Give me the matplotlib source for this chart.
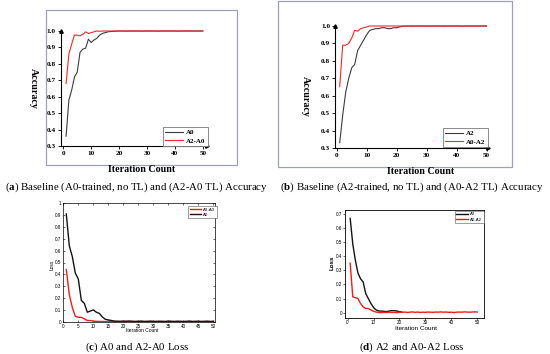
import numpy as np
import matplotlib
matplotlib.use('Agg')
import matplotlib.pyplot as plt
from matplotlib.patches import Rectangle

plt.rcParams['mathtext.fontset'] = 'custom'
plt.rcParams['mathtext.rm'] = 'Liberation Serif'
plt.rcParams['mathtext.bf'] = 'Liberation Serif:bold'

W, H = 550, 354

# ============================================================
# Data (iteration 1..50)
# ============================================================
iters = np.arange(1, 51)

# (a) accuracy
acc_a_A0 = [0.36, 0.58, 0.64, 0.72, 0.75, 0.87, 0.89, 0.895, 0.95, 0.93,
            0.945, 0.955, 0.975, 0.985, 0.99, 0.995, 0.997, 0.998, 0.999, 1.0,
            1.0, 1.0, 0.999, 1.0, 1.0, 1.0, 1.0, 0.999, 1.0, 1.0,
            1.0, 1.0, 1.0, 0.999, 1.0, 1.0, 1.0, 1.0, 1.0, 1.0,
            0.999, 1.0, 1.0, 1.0, 1.0, 1.0, 1.0, 1.0, 1.0, 1.0]
acc_a_A2A0 = [0.68, 0.86, 0.92, 0.975, 0.975, 0.97, 0.98, 0.995, 0.985, 0.99,
              0.995, 1.0, 0.998, 1.0, 1.0, 1.0, 1.0, 1.0, 1.0, 1.0,
              1.0, 1.0, 1.0, 1.0, 1.0, 1.0, 1.0, 1.0, 1.0, 1.0,
              1.0, 1.0, 1.0, 1.0, 1.0, 1.0, 1.0, 1.0, 1.0, 1.0,
              1.0, 1.0, 1.0, 1.0, 1.0, 1.0, 1.0, 1.0, 1.0, 1.0]

# (b) accuracy
acc_b_A2 = [0.332, 0.49, 0.62, 0.70, 0.76, 0.78, 0.86, 0.89, 0.92, 0.95,
            0.975, 0.98, 0.985, 0.985, 0.99, 0.99, 0.985, 0.985, 0.99, 0.99,
            0.995, 0.998, 1.0, 1.0, 0.999, 1.0, 1.0, 1.0, 1.0, 0.999,
            1.0, 1.0, 1.0, 1.0, 1.0, 0.999, 1.0, 1.0, 1.0, 1.0,
            1.0, 0.999, 1.0, 1.0, 1.0, 1.0, 1.0, 1.0, 1.0, 1.0]
acc_b_A0A2 = [0.653, 0.89, 0.89, 0.90, 0.93, 0.975, 0.97, 0.985, 0.99, 0.995,
              1.0, 1.0, 1.0, 1.0, 1.0, 1.0, 1.0, 1.0, 1.0, 1.0,
              1.0, 1.0, 1.0, 1.0, 1.0, 1.0, 1.0, 1.0, 1.0, 1.0,
              1.0, 1.0, 1.0, 1.0, 1.0, 1.0, 1.0, 1.0, 1.0, 1.0,
              1.0, 1.0, 1.0, 1.0, 1.0, 1.0, 1.0, 1.0, 1.0, 1.0]

# (c) loss
loss_c_A0 = [0.91, 0.64, 0.55, 0.41, 0.36, 0.18, 0.155, 0.08, 0.09, 0.10,
             0.08, 0.07, 0.04, 0.02, 0.015, 0.01, 0.005, 0.004, 0.003, 0.005,
             0.004, 0.006, 0.003, 0.002, 0.004, 0.005, 0.002, 0.003, 0.005, 0.003,
             0.002, 0.004, 0.003, 0.002, 0.005, 0.003, 0.002, 0.004, 0.003, 0.002,
             0.003, 0.005, 0.002, 0.003, 0.004, 0.002, 0.003, 0.004, 0.002, 0.003]
loss_c_A2A0 = [0.44, 0.23, 0.12, 0.045, 0.038, 0.036, 0.025, 0.01, 0.01, 0.005,
               0.003, 0.002, 0.002, 0.001, 0.002, 0.001, 0.002, 0.001, 0.001, 0.002,
               0.001, 0.001, 0.002, 0.001, 0.001, 0.001, 0.002, 0.001, 0.001, 0.001,
               0.002, 0.001, 0.001, 0.001, 0.001, 0.002, 0.001, 0.001, 0.001, 0.001,
               0.001, 0.002, 0.001, 0.001, 0.001, 0.001, 0.001, 0.002, 0.001, 0.001]

# (d) loss  (A2 curve stops at iteration 21)
loss_d_A2 = [0.667, 0.485, 0.37, 0.28, 0.24, 0.217, 0.135, 0.10, 0.065, 0.037,
             0.02, 0.012, 0.012, 0.01, 0.008, 0.012, 0.015, 0.015, 0.012, 0.008,
             0.004]
loss_d_A0A2 = [0.35, 0.112, 0.107, 0.10, 0.065, 0.042, 0.03, 0.03, 0.02, 0.01,
               0.005, 0.002, 0.001, 0.003, 0.002, 0.004, 0.002, 0.003, 0.001, 0.004,
               0.003, 0.005, 0.002, 0.004, 0.006, 0.003, 0.005, 0.002, 0.004, 0.003,
               0.005, 0.004, 0.003, 0.005, 0.004, 0.006, 0.004, 0.005, 0.003, 0.004,
               0.001, 0.004, 0.005, 0.004, 0.006, 0.005, 0.004, 0.005, 0.006, 0.005]

captions = [r'($\mathbf{a}$) Baseline (A0-trained, no TL) and (A2-A0 TL) Accuracy',
            r'($\mathbf{b}$) Baseline (A2-trained, no TL) and (A0-A2 TL) Accuracy',
            r'($\mathbf{c}$) A0 and A2-A0 Loss',
            r'($\mathbf{d}$) A2 and A0-A2 Loss']

SERIF = 'Liberation Serif'
SANS = 'Liberation Sans'
GRAY = '#3c3c3c'
RED = '#ff2626'


def px_axes(fig, x0, y0, x1, y1):
    """add axes given pixel box (top-left origin)"""
    return fig.add_axes([x0 / W, 1 - y1 / H, (x1 - x0) / W, (y1 - y0) / H])


def fx(x):
    return x / W


def fy(y):
    return 1 - y / H


fig = plt.figure(figsize=(5.5, 3.54), dpi=100)

# ============================================================
# Accuracy panels (Origin style)
# ============================================================
def acc_panel(box, frame, xlim, s1, s2, lab1, lab2, ylab_pos, xlab_pos, leg_pos):
    fig.patches.append(Rectangle((fx(frame[0]), fy(frame[3])),
                                 fx(frame[2] - frame[0]), (frame[3] - frame[1]) / H,
                                 transform=fig.transFigure, fill=False,
                                 edgecolor='#9aa2b4', linewidth=0.9))
    ax = px_axes(fig, *box)
    ax.plot(iters, s1, color=GRAY, lw=0.8, label=lab1, clip_on=False)
    ax.plot(iters, s2, color=RED, lw=0.8, label=lab2, clip_on=False)
    ax.set_xlim(*xlim)
    ax.set_ylim(0.3, 1.0)
    ax.set_xticks([0, 10, 20, 30, 40, 50])
    ax.set_yticks(np.arange(0.3, 1.01, 0.1))
    ax.set_yticklabels(['%.1f' % v for v in np.arange(0.3, 1.01, 0.1)])
    for s in ['top', 'right']:
        ax.spines[s].set_visible(False)
    for s in ['left', 'bottom']:
        ax.spines[s].set_linewidth(0.8)
    ax.tick_params(direction='out', length=2, width=0.6, pad=1.5, labelsize=5.2)
    for t in ax.get_xticklabels() + ax.get_yticklabels():
        t.set_fontfamily(SERIF)
        t.set_fontweight('bold')
    ax.plot([0], [1], marker='^', ms=2.5, color='black', transform=ax.transAxes, clip_on=False)
    ax.plot([1], [0], marker='>', ms=2.5, color='black', transform=ax.transAxes, clip_on=False)
    fig.text(fx(ylab_pos[0]), fy(ylab_pos[1]), 'Accuracy', rotation=-90, ha='center', va='center',
             family=SERIF, weight='bold', fontsize=7.2)
    fig.text(fx(xlab_pos[0]), fy(xlab_pos[1]), 'Iteration Count', ha='center', va='center',
             family=SERIF, weight='bold', fontsize=7.2)
    leg = ax.legend(loc='upper left', bbox_to_anchor=(fx(leg_pos[0]), fy(leg_pos[1])),
                    bbox_transform=fig.transFigure, prop={'family': SERIF, 'weight': 'bold', 'size': 5},
                    fancybox=False, framealpha=1, edgecolor='#777777', handlelength=2.5,
                    handletextpad=0.5, borderpad=0.35, labelspacing=0.35, borderaxespad=0)
    leg.get_frame().set_linewidth(0.6)
    return ax


acc_panel((60.7, 31, 207, 146), (46, 10, 237, 165), (-0.93, 51.5),
          acc_a_A0, acc_a_A2A0, 'A0', 'A2-A0', (33, 88), (142, 169), (163, 127))
acc_panel((335, 26, 488, 148.3), (278, 1, 512, 167), (-0.57, 50.5),
          acc_b_A2, acc_b_A0A2, 'A2', 'A0-A2', (305, 96), (421, 171), (443, 128))

# ============================================================
# Loss panels (MATLAB style)
# ============================================================
BLACK = '#141414'
LRED = '#ee1c1c'

ax_c = px_axes(fig, 63.3, 203.3, 215, 321.7)
ax_c.plot(iters, loss_c_A2A0, color=LRED, lw=1.0, label='A2-A0')
ax_c.plot(iters, loss_c_A0, color=BLACK, lw=1.0, label='A0')
ax_c.set_xlim(0, 50.5)
ax_c.set_ylim(0, 1)
ax_c.set_xticks(np.arange(0, 51, 5))
ax_c.set_yticks(np.arange(0, 1.01, 0.1))
ax_c.set_yticklabels(['0'] + ['%.1f' % v for v in np.arange(0.1, 0.95, 0.1)] + ['1'])
ax_c.tick_params(direction='in', length=1.5, width=0.4, pad=1.5, labelsize=3.3,
                 top=True, right=True)
for s in ax_c.spines.values():
    s.set_linewidth(0.5)
for t in ax_c.get_xticklabels() + ax_c.get_yticklabels():
    t.set_fontfamily(SANS)
fig.text(fx(52), fy(265), 'Loss', rotation=90, ha='center', va='center', family=SANS, fontsize=3.5)
fig.text(fx(142), fy(331), 'Iteration Count', ha='center', va='center', family=SANS, fontsize=3.5)
leg = ax_c.legend(loc='upper left', bbox_to_anchor=(fx(188), fy(206)), bbox_transform=fig.transFigure,
                  prop={'family': SANS, 'size': 3.2}, fancybox=False, framealpha=1,
                  edgecolor='#555555', handlelength=2.6, handletextpad=0.5, borderpad=0.35,
                  labelspacing=0.25, borderaxespad=0)
leg.get_frame().set_linewidth(0.4)

ax_d = px_axes(fig, 345, 210, 484, 317.7)
ax_d.plot(iters[:len(loss_d_A2)], loss_d_A2, color=BLACK, lw=1.0, label='A2')
ax_d.plot(iters, loss_d_A0A2, color=LRED, lw=1.0, label='A0-A2')
ax_d.set_xlim(-1, 52.6)
ax_d.set_ylim(-0.035, 0.726)
ax_d.set_xticks(np.arange(0, 51, 10))
ax_d.set_yticks(np.arange(0, 0.71, 0.1))
ax_d.set_yticklabels(['0'] + ['%.1f' % v for v in np.arange(0.1, 0.71, 0.1)])
ax_d.tick_params(direction='out', length=1.2, width=0.4, pad=0.8, labelsize=3.3)
for s in ax_d.spines.values():
    s.set_linewidth(0.6)
for t in ax_d.get_xticklabels() + ax_d.get_yticklabels():
    t.set_fontfamily(SANS)
fig.text(fx(332), fy(263), 'Loss', rotation=90, ha='center', va='center', family=SANS,
         weight='bold', fontsize=4.4)
fig.text(fx(416), fy(328), 'Iteration Count', ha='center', va='center', family=SANS, fontsize=4.6)
leg = ax_d.legend(loc='upper right', bbox_to_anchor=(fx(483.5), fy(210.7)), bbox_transform=fig.transFigure,
                  prop={'family': SANS, 'size': 3.2}, fancybox=False, framealpha=1,
                  edgecolor='#555555', handlelength=2.6, handletextpad=0.5, borderpad=0.35,
                  labelspacing=0.25, borderaxespad=0)
leg.get_frame().set_linewidth(0.4)

# ============================================================
# Captions
# ============================================================
cap_pos = [(137, 187), (412, 187), (137, 347), (412, 347)]
for txt, (cx, cy) in zip(captions, cap_pos):
    fig.text(fx(cx), fy(cy), txt, ha='center', va='center', family=SERIF, fontsize=7.8)

fig.savefig('out.png', dpi=100)
